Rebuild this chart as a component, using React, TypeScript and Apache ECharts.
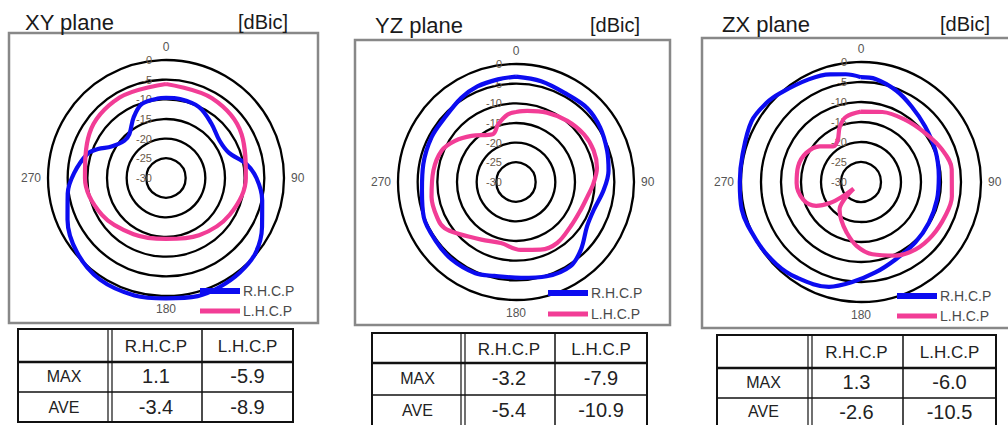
import React, { useEffect, useRef } from 'react';
import * as echarts from 'echarts';

// ---------- data ----------
const planeTitles = ['XY plane', 'YZ plane', 'ZX plane'];
const unitLabel = '[dBic]';
const seriesNames = ['R.H.C.P', 'L.H.C.P'];
const seriesColors = ['#0c0cf0', '#f23d96'];
const rowLabels = ['MAX', 'AVE'];
const ringMin = -30;
const ringMax = 0;
const ringStep = 5;
const headroom = 2.5; // space beyond 0 dBic so values above 0 remain visible

// angle (deg, clockwise from top) / gain (dBic)
const xyRhcpAngles = [0, 10, 25, 40, 55, 68, 80, 90, 103, 117, 130, 142, 154, 165, 180, 195, 213, 230, 247, 261, 273, 287, 293, 300, 312, 320, 332, 342, 354, 360];
const xyRhcpValues = [-9.6, -9.6, -10.1, -12.0, -13.4, -12.8, -9.3, -7.0, -4.9, -2.6, -0.3, 0.5, 0.9, 1.1, 0.6, 0.9, 0.8, -0.5, -2.8, -4.7, -6.6, -9.1, -11.2, -14.0, -15.8, -15.5, -12.5, -10.2, -9.7, -9.6];
const xyLhcpAngles = [0, 30, 60, 90, 120, 150, 180, 210, 240, 270, 300, 330, 360];
const xyLhcpValues = [-6.1, -6.6, -7.8, -9.7, -11.3, -13.2, -14.5, -13.5, -11.2, -9.4, -7.5, -6.4, -6.1];

const yzRhcpAngles = [0, 14, 30, 44, 57, 71, 83, 95, 110, 122, 136, 147, 162, 177, 193, 204, 220, 234, 249, 265, 281, 298, 312, 327, 338, 350, 360];
const yzRhcpValues = [-3.2, -3.6, -4.2, -3.9, -4.5, -5.5, -6.3, -7.6, -9.0, -8.7, -6.2, -4.5, -4.8, -5.6, -5.5, -4.6, -4.4, -4.7, -4.9, -6.0, -6.0, -5.7, -5.6, -4.5, -3.8, -3.5, -3.2];
const yzLhcpAngles = [0, 9, 24, 40, 55, 68, 80, 91, 102, 114, 129, 146, 160, 176, 194, 211, 228, 237, 244, 260, 278, 293, 304, 316, 334, 343, 353, 360];
const yzLhcpValues = [-12.2, -11.7, -10.7, -9.7, -8.9, -8.7, -9.1, -10.3, -11.5, -12.1, -12.1, -11.3, -11.7, -12.7, -14.0, -12.9, -10.3, -8.4, -8.0, -8.2, -8.8, -9.5, -11.3, -13.7, -16.5, -14.6, -12.7, -12.2];

const zxRhcpAngles = [0, 8, 21, 34, 49, 67, 86, 103, 121, 138, 156, 171, 185, 197, 214, 226, 240, 257, 270, 283, 299, 310, 318, 333, 344, 352, 360];
const zxRhcpValues = [-3.8, -4.0, -5.5, -7.3, -8.8, -9.8, -10.5, -10.5, -10.2, -9.7, -8.8, -7.1, -4.9, -2.6, -1.2, -0.5, -0.1, 0.6, 0.3, 0.4, 1.3, 0.8, 0.0, -1.2, -2.0, -2.8, -3.8];
const zxLhcpAngles = [0, 17, 36, 53, 68, 82, 99, 112, 127, 141, 155, 171, 184, 196, 208, 218, 224, 228, 232, 236, 242, 253, 269, 284, 298, 311, 322, 331, 339, 347, 360];
const zxLhcpValues = [-12.4, -11.7, -10.9, -9.8, -8.2, -7.1, -7.0, -7.3, -7.7, -8.3, -9.7, -11.7, -14.0, -16.9, -19.4, -21.3, -24.0, -27.5, -24.2, -20.6, -17.3, -14.9, -13.9, -13.8, -14.5, -16.4, -18.7, -18.0, -15.2, -13.3, -12.4];

const xyStats = [[1.1, -5.9], [-3.4, -8.9]];
const yzStats = [[-3.2, -7.9], [-5.4, -10.9]];
const zxStats = [[1.3, -6.0], [-2.6, -10.5]];

const planeCurves = [
  [[xyRhcpAngles, xyRhcpValues], [xyLhcpAngles, xyLhcpValues]],
  [[yzRhcpAngles, yzRhcpValues], [yzLhcpAngles, yzLhcpValues]],
  [[zxRhcpAngles, zxRhcpValues], [zxLhcpAngles, zxLhcpValues]],
];
const planeStats = [xyStats, yzStats, zxStats];

// ---------- layout ----------
const FONT = '"Liberation Sans", Arial, sans-serif';
const layouts = [
  { box: [9, 33, 309, 290], center: [166, 178], ring0: 118, titleX: 25, titleY: 22, unitX: 288, unitY: 22, legendX: 200, legendY: [291, 311], tableX: [18, 110, 202, 293], tableY: [329, 362, 392, 422] },
  { box: [355, 40, 315, 285], center: [516, 182], ring0: 118, titleX: 375, titleY: 25, unitX: 640, unitY: 25, legendX: 548, legendY: [293, 314], tableX: [372, 463, 555, 647], tableY: [333, 363, 395, 428] },
  { box: [702, 38, 310, 290], center: [861, 182], ring0: 120, titleX: 722, titleY: 24, unitX: 990, unitY: 24, legendX: 897, legendY: [296, 316], tableX: [717, 810, 903, 996], tableY: [335, 368, 398, 430] },
];

function buildOption() {
  const graphics: any[] = [];
  layouts.forEach((l, i) => {
    graphics.push({ type: 'rect', shape: { x: l.box[0], y: l.box[1], width: l.box[2], height: l.box[3] }, style: { fill: 'none', stroke: '#888', lineWidth: 2.5 }, silent: true });
    graphics.push({ type: 'text', x: l.titleX, y: l.titleY, style: { text: planeTitles[i], font: `22px ${FONT}`, fill: '#1a1a1a', align: 'left', verticalAlign: 'middle' } });
    graphics.push({ type: 'text', x: l.unitX, y: l.unitY, style: { text: unitLabel, font: `20px ${FONT}`, fill: '#1a1a1a', align: 'right', verticalAlign: 'middle' } });
    seriesNames.forEach((n, k) => {
      graphics.push({ type: 'line', shape: { x1: l.legendX, y1: l.legendY[k], x2: l.legendX + 40, y2: l.legendY[k] }, style: { stroke: seriesColors[k], lineWidth: k === 0 ? 6 : 5 }, z: 10 });
      graphics.push({ type: 'text', x: l.legendX + 43, y: l.legendY[k], style: { text: n, font: `14px ${FONT}`, fill: '#4a4a4a', align: 'left', verticalAlign: 'middle' }, z: 10 });
    });
    // table
    const tx = l.tableX, ty = l.tableY;
    const tb = ty[3];
    graphics.push({ type: 'rect', shape: { x: tx[0], y: ty[0], width: tx[3] - tx[0], height: tb - ty[0] }, style: { fill: '#fff', stroke: '#111', lineWidth: 2 } });
    graphics.push({ type: 'line', shape: { x1: tx[1] - 2, y1: ty[0], x2: tx[1] - 2, y2: tb }, style: { stroke: '#111', lineWidth: 1.2 } });
    graphics.push({ type: 'line', shape: { x1: tx[1] + 2, y1: ty[0], x2: tx[1] + 2, y2: tb }, style: { stroke: '#111', lineWidth: 1.2 } });
    graphics.push({ type: 'line', shape: { x1: tx[2], y1: ty[0], x2: tx[2], y2: tb }, style: { stroke: '#111', lineWidth: 1.5 } });
    graphics.push({ type: 'line', shape: { x1: tx[0], y1: ty[1], x2: tx[3], y2: ty[1] }, style: { stroke: '#111', lineWidth: 2.5 } });
    graphics.push({ type: 'line', shape: { x1: tx[0], y1: ty[2], x2: tx[3], y2: ty[2] }, style: { stroke: '#111', lineWidth: 1.5 } });
    seriesNames.forEach((n, k) => {
      graphics.push({ type: 'text', x: (tx[k + 1] + tx[k + 2]) / 2, y: (ty[0] + ty[1]) / 2 + 1, style: { text: n, font: `17px ${FONT}`, fill: '#222', align: 'center', verticalAlign: 'middle' }, z: 5 });
    });
    rowLabels.forEach((r, j) => {
      const cy = (ty[j + 1] + Math.min(ty[j + 2], 425)) / 2 - (j === 0 ? 1 : 0);
      graphics.push({ type: 'text', x: (tx[0] + tx[1]) / 2, y: cy, style: { text: r, font: `16px ${FONT}`, fill: '#222', align: 'center', verticalAlign: 'middle' }, z: 5 });
      planeStats[i][j].forEach((v, k) => {
        graphics.push({ type: 'text', x: (tx[k + 1] + tx[k + 2]) / 2, y: cy, style: { text: v.toFixed(1), font: `20px ${FONT}`, fill: '#222', align: 'center', verticalAlign: 'middle' }, z: 5 });
      });
    });
  });

  const series: any[] = [];
  planeCurves.forEach((curves, i) => {
    curves.forEach(([angles, values], k) => {
      series.push({
        type: 'line', coordinateSystem: 'polar', polarIndex: i, name: seriesNames[k],
        data: angles.map((a, m) => [values[m], a]),
        symbol: 'none', smooth: 0.35, clip: false, silent: true,
        lineStyle: { color: seriesColors[k], width: 4.2 }, z: 10 + k,
      });
    });
  });

  const ringCount = (ringMax - ringMin) / ringStep + 1;
  const ringColors = [...Array(ringCount).fill('#000'), 'rgba(0,0,0,0)'];
  const span = ringMax + headroom - ringMin;

  return {
    animation: false,
    backgroundColor: '#fff',
    textStyle: { fontFamily: FONT },
    polar: layouts.map((l) => ({ center: l.center, radius: (l.ring0 * span) / (ringMax - ringMin) })),
    angleAxis: layouts.map((l, i) => ({
      polarIndex: i, type: 'value', min: 0, max: 360, interval: 90, startAngle: 90, clockwise: true,
      axisLine: { show: false }, axisTick: { show: false }, splitLine: { show: false },
      axisLabel: {
        show: true, margin: 7 - (l.ring0 * headroom) / (ringMax - ringMin), fontSize: 12, color: '#555',
        formatter: (v: number) => (v === 360 ? '' : String(v)),
      },
    })),
    radiusAxis: layouts.map((_, i) => ({
      polarIndex: i, type: 'value', min: ringMin, max: ringMax + headroom, interval: ringStep,
      axisLine: { show: false }, axisTick: { show: false },
      splitLine: { show: true, lineStyle: { color: ringColors, width: 2.3 } },
      axisLabel: { show: true, fontSize: 11, color: '#6a5a4a', margin: 14, formatter: (v: number) => (v > ringMax ? '' : String(v)) },
    })),
    series,
    graphic: graphics,
  };
}

export default function App() {
  const ref = useRef<HTMLDivElement>(null);
  useEffect(() => {
    document.body.style.margin = '0';
    const chart = echarts.init(ref.current!, null, { renderer: 'svg' });
    chart.setOption(buildOption());
    return () => chart.dispose();
  }, []);
  return <div ref={ref} style={{ width: 1008, height: 425, background: '#fff' }} />;
}
